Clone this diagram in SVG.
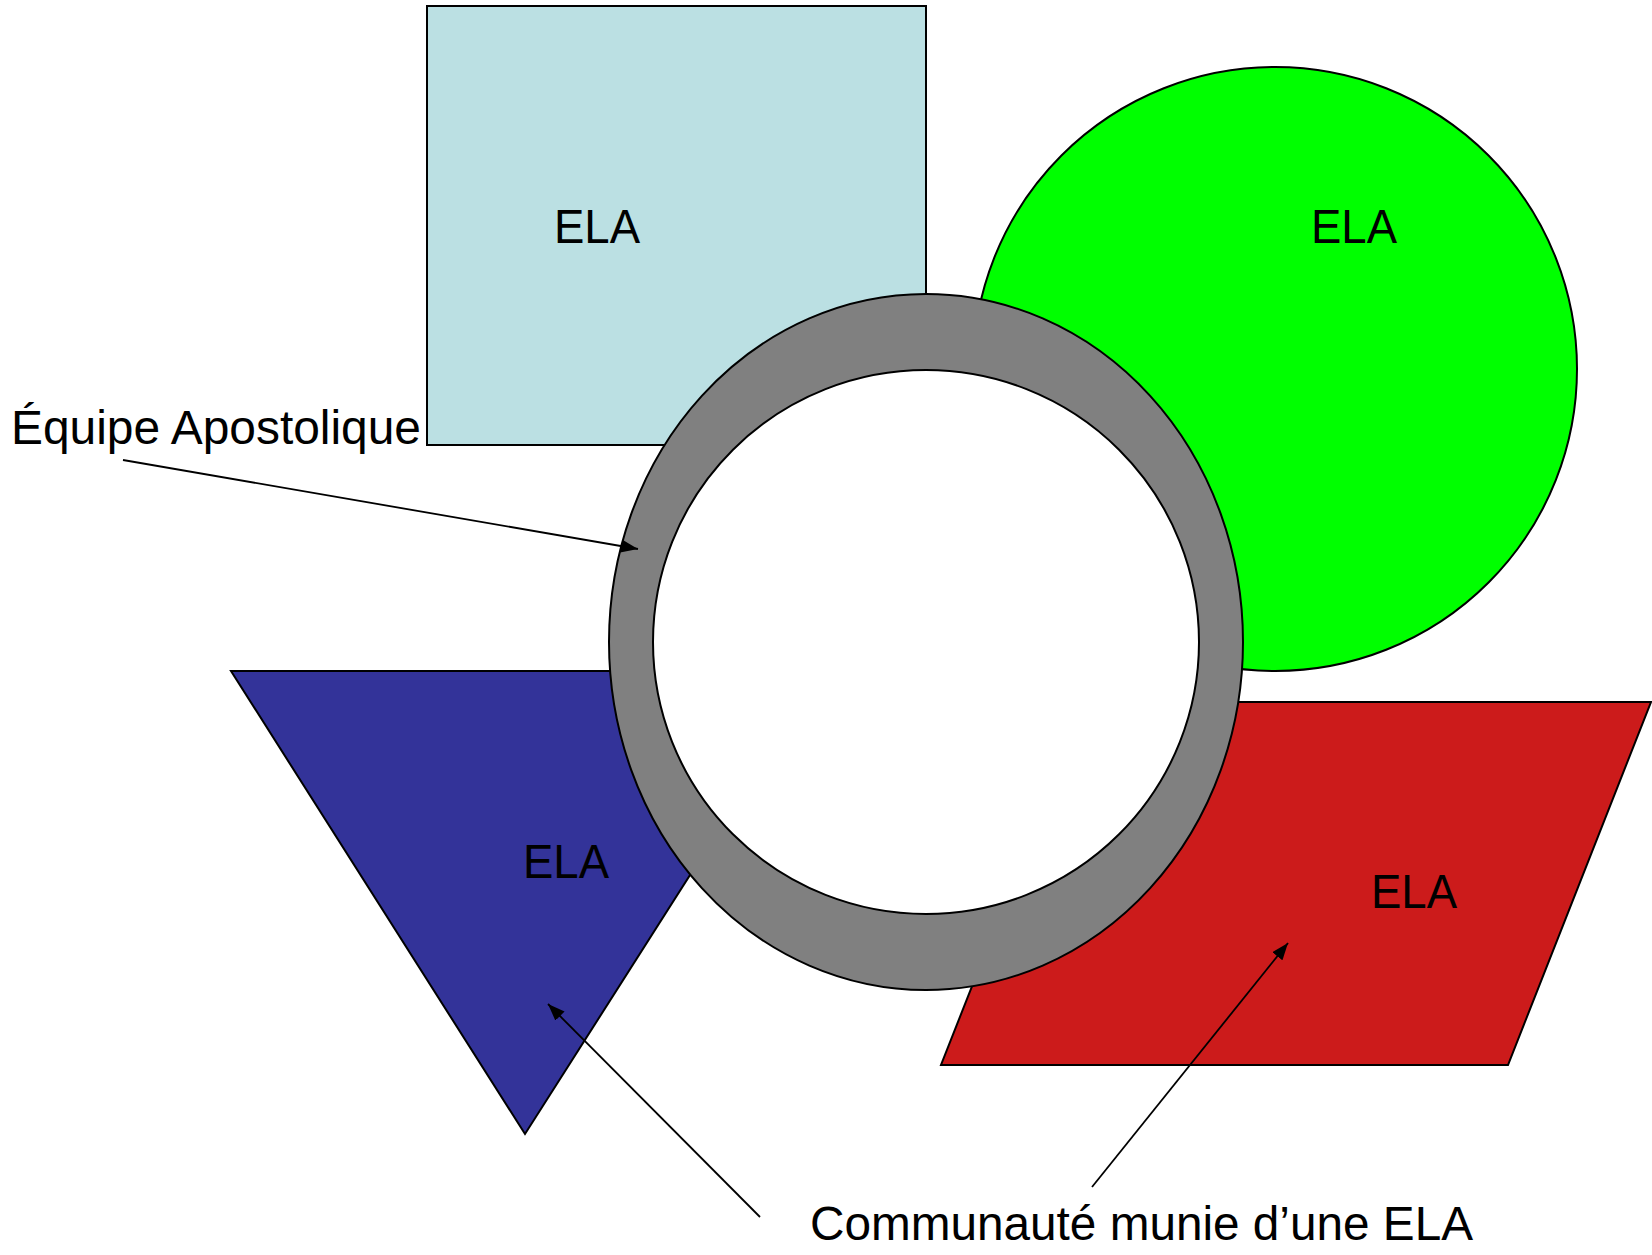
<svg xmlns="http://www.w3.org/2000/svg" width="1652" height="1255" viewBox="0 0 1652 1255">
<style>
.s{stroke:#000;stroke-width:2}
.t{font-family:"Liberation Sans",Arial,sans-serif;font-size:48px;fill:#000}
.c{stroke:#000;stroke-width:1.8;fill:none}
</style>
<defs>
<marker id="ah" viewBox="0 0 10 10" refX="10" refY="5" markerWidth="17" markerHeight="13" markerUnits="userSpaceOnUse" orient="auto" preserveAspectRatio="none">
<path d="M0,0 L10,5 L0,10 z" fill="#000"/>
</marker>
</defs>
<rect width="1652" height="1255" fill="#fff"/>
<g id="square">
<rect class="s" x="427" y="6" width="499" height="439" fill="#BBE0E3"/>
<text class="t" x="554" y="243" textLength="86" lengthAdjust="spacingAndGlyphs">ELA</text>
</g>
<g id="circle">
<circle class="s" cx="1275" cy="369" r="302" fill="#00FF00"/>
<text class="t" x="1311" y="243" textLength="86" lengthAdjust="spacingAndGlyphs">ELA</text>
</g>
<g id="triangle">
<polygon class="s" points="231,671 820,671 525,1134" fill="#333399"/>
<text class="t" x="523" y="878" textLength="86" lengthAdjust="spacingAndGlyphs">ELA</text>
</g>
<g id="parallelogram">
<polygon class="s" points="1084,702 1651,702 1508,1065 941,1065" fill="#CC1B1B"/>
<text class="t" x="1371" y="908" textLength="86" lengthAdjust="spacingAndGlyphs">ELA</text>
</g>
<g id="ring">
<ellipse class="s" cx="926" cy="642" rx="317" ry="348" fill="#808080"/>
<ellipse class="s" cx="926" cy="642" rx="273" ry="272" fill="#fff"/>
</g>
<g id="labels">
<text class="t" x="11" y="444" textLength="410" lengthAdjust="spacingAndGlyphs">Équipe Apostolique</text>
<text class="t" x="810" y="1240" textLength="663" lengthAdjust="spacingAndGlyphs">Communauté munie d’une ELA</text>
</g>
<g id="connectors">
<line class="c" x1="123" y1="460" x2="638" y2="549" marker-end="url(#ah)"/>
<line class="c" x1="760" y1="1217" x2="548" y2="1004" marker-end="url(#ah)"/>
<line class="c" x1="1092" y1="1187" x2="1288" y2="943" marker-end="url(#ah)"/>
</g>
</svg>
